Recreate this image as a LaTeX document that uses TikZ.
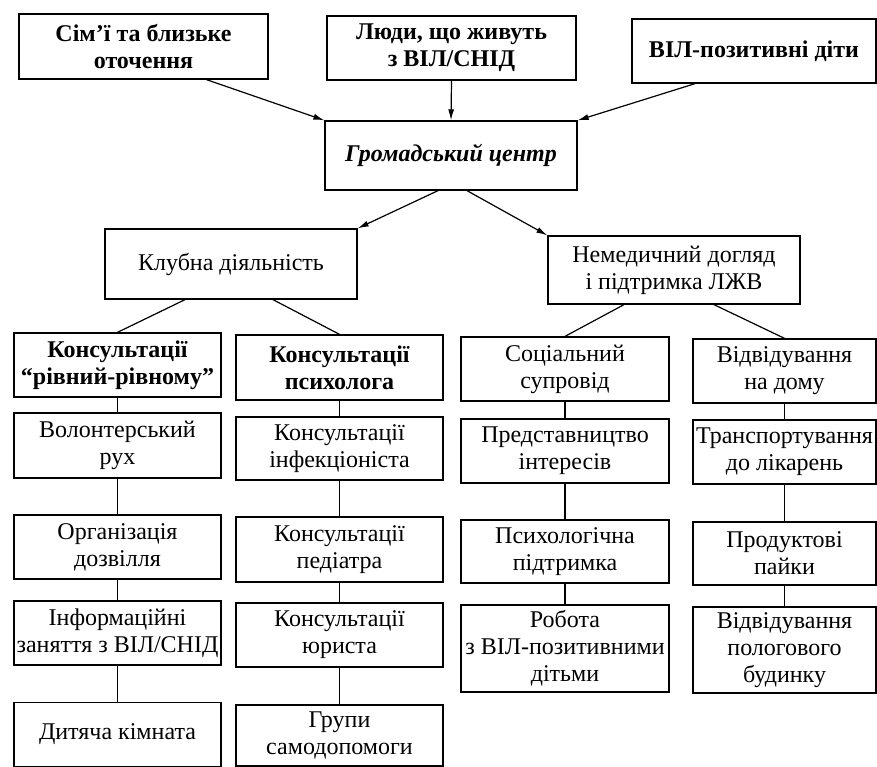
\documentclass[tikz,border=0pt]{standalone}
\usepackage{fontspec}
\setmainfont{Liberation Serif}
\usetikzlibrary{arrows.meta}
\tikzset{
  >={Latex[length=11pt,width=6pt]},
}
\newcommand{\boxsize}{\fontsize{24}{27}\selectfont}
\tikzstyle{box}=[draw,line width=1.3pt,align=center,inner sep=0pt,minimum height=64pt,font=\boxsize]
\tikzstyle{head}=[box,font=\boxsize\bfseries]
\tikzstyle{link}=[line width=1.2pt]

\begin{document}
\begin{tikzpicture}[x=1pt,y=-1pt]
    \useasboundingbox (0,0) rectangle (877,767);
    % who comes to the centre
    \node[head,minimum width=249pt,minimum height=65pt] (family) at (143.5,46.5) {Сім’ї та близьке\\оточення};
    \node[head,minimum width=249pt] (people) at (451.5,48) {Люди, що живуть\\з ВІЛ/СНІД};
    \node[head,minimum width=244pt] (kids) at (754,51) {ВІЛ-позитивні діти};
    \node[box,font=\boxsize\bfseries\itshape,minimum width=252pt,minimum height=69pt] (centre) at (451,155.5) {Громадський центр};
    \draw[link,->] ([xshift=63pt]family.south) -- (centre.north west);
    \draw[link,->] (people.south) -- (centre.north);
    \draw[link,->] ([xshift=-59pt]kids.south) -- (centre.north east);
    % two branches
    \node[box,minimum width=252pt,minimum height=70pt] (club) at (231,264) {Клубна діяльність};
    \node[box,minimum width=252pt,minimum height=68pt] (care) at (674,270) {Немедичний догляд\\і підтримка ЛЖВ};
    \draw[link,->] ([xshift=-13pt]centre.south) -- (club.north east);
    \draw[link,->] ([xshift=16pt]centre.south) -- (care.north west);
    % club column heads
    \node[head,minimum width=207pt] (peer) at (117.5,365) {Консультації\\“рівний-рівному”};
    \node[head,minimum width=207pt,minimum height=65pt] (psych) at (339.5,367.5) {Консультації\\психолога};
    \draw[link] ([xshift=-46pt]club.south) -- (peer.north);
    \draw[link] ([xshift=42pt]club.south) -- (psych.north);
    % care column heads
    \node[box,minimum width=208pt] (social) at (565,369) {Соціальний\\супровід};
    \node[box,minimum width=183pt] (visit) at (784.5,371) {Відвідування\\на дому};
    \draw[link] ([xshift=-50pt]care.south) -- (social.north);
    \draw[link] ([xshift=40pt]care.south) -- (visit.north);
    % column 1
    \node[box,minimum width=207pt,minimum height=65pt] (volunt) at (117.5,445.5) {Волонтерський\\рух};
    \node[box,minimum width=207pt] (leisure) at (117.5,547) {Організація\\дозвілля};
    \node[box,minimum width=207pt] (info) at (117.5,633) {Інформаційні\\заняття з ВІЛ/СНІД};
    \node[box,minimum width=207pt] (playroom) at (117.5,734.5) {Дитяча кімната};
    \draw[link] (peer) -- (volunt) -- (leisure) -- (info) -- (playroom);
    % column 2
    \node[box,minimum width=207pt,minimum height=63pt] (infect) at (339.5,448.5) {Консультації\\інфекціоніста};
    \node[box,minimum width=207pt,minimum height=65pt] (pediat) at (339.5,549.5) {Консультації\\педіатра};
    \node[box,minimum width=207pt] (lawyer) at (339.5,635) {Консультації\\юриста};
    \node[box,minimum width=207pt,minimum height=61pt] (selfhelp) at (339.5,735.5) {Групи\\самодопомоги};
    \draw[link] (psych) -- (infect) -- (pediat) -- (lawyer) -- (selfhelp);
    % column 3
    \node[box,minimum width=208pt] (advocacy) at (565,451) {Представництво\\інтересів};
    \node[box,minimum width=208pt,minimum height=63pt] (support) at (565,551.5) {Психологічна\\підтримка};
    \node[box,minimum width=208pt,minimum height=87pt] (hivkids) at (565,648.5) {Робота\\з ВІЛ-позитивними\\дітьми};
    \draw[link] (social) -- (advocacy) -- (support) -- (hivkids);
    % column 4
    \node[box,minimum width=183pt] (transport) at (784.5,452) {Транспортування\\до лікарень};
    \node[box,minimum width=183pt,minimum height=63pt] (food) at (784.5,553.5) {Продуктові\\пайки};
    \node[box,minimum width=183pt,minimum height=86pt] (maternity) at (784.5,650) {Відвідування\\пологового\\будинку};
    \draw[link] (visit) -- (transport) -- (food) -- (maternity);
\end{tikzpicture}
\end{document}
